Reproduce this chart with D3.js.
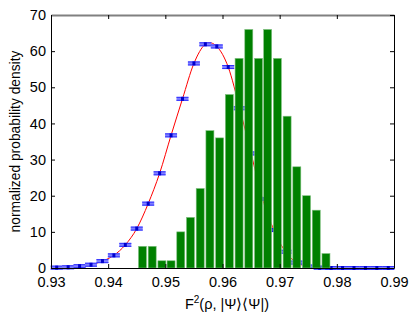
<!DOCTYPE html>
<html><head><meta charset="utf-8">
<script src="https://cdn.jsdelivr.net/npm/d3@7"></script>
<style>
html,body{margin:0;padding:0;background:#fff;}
svg{display:block;font-family:"Liberation Sans",Arial,sans-serif;}
</style></head>
<body><svg id="c" width="415" height="315"></svg>
<script>
// Histogram bins (centers) and normalized densities
const binCenters = [0.9460,0.9477,0.9494,0.9510,0.9527,0.9544,0.9561,0.9578,0.9595,0.9612,
                    0.9629,0.9646,0.9663,0.9679,0.9696,0.9713,0.9730,0.9747,0.9764,0.9781];
const binValues  = [6,6,2,2,10,14,22,38,36,48,58,66,58,66,58,42,28,20,16,4];
// Theoretical density points (error-bar markers and red curve)
const pointX = [0.931,0.933,0.935,0.937,0.939,0.941,0.943,0.945,0.947,0.949,
                0.951,0.953,0.955,0.957,0.959,0.961,0.963,0.965,0.967,0.969,
                0.971,0.973,0.975,0.977,0.979,0.981,0.983,0.985,0.987,0.989];
const pointY = [0.1,0.2,0.5,0.9,1.9,3.5,6.4,10.9,17.8,26.2,
                36.7,46.8,56.6,61.9,61.3,55.6,44.2,31.7,19.1,10.5,
                4.5,1.5,0.4,0.1,0,0,0,0,0,0];
const xTicks = [0.93,0.94,0.95,0.96,0.97,0.98,0.99];
const yTicks = [0,10,20,30,40,50,60,70];
const binWidth = 0.0014;

const svg = d3.select("#c");
const L=51, R=394, T=15, B=268;
const FS = 14.5;
const x = d3.scaleLinear().domain([0.93,0.99]).range([L,R]);
const y = d3.scaleLinear().domain([0,70]).range([B,T]);

const g = svg.append("g");

// red curve
const line = d3.line().x((d,i)=>x(pointX[i])).y(d=>y(d)).curve(d3.curveCatmullRom.alpha(0));
g.append("path").datum(pointY).attr("d",line).attr("fill","none").attr("stroke","#ff0000").attr("stroke-width",1);

// markers
const mk = g.selectAll("g.mk").data(pointY).join("g").attr("class","mk")
  .attr("transform",(d,i)=>`translate(${x(pointX[i])},${y(d)})`);
mk.append("rect").attr("x",-6).attr("y",-2).attr("width",12).attr("height",4).attr("fill","#8080ff");
mk.append("line").attr("x1",-6).attr("x2",6).attr("y1",-1.5).attr("y2",-1.5).attr("stroke","#3030ff").attr("stroke-width",1);
mk.append("line").attr("x1",-6).attr("x2",6).attr("y1",1.5).attr("y2",1.5).attr("stroke","#3030ff").attr("stroke-width",1);
mk.append("rect").attr("x",-1.5).attr("y",-2).attr("width",3).attr("height",4).attr("fill","#0000cc");

// bars
g.selectAll("rect.bar").data(binValues).join("rect").attr("class","bar")
  .attr("x",(d,i)=>x(binCenters[i]-binWidth/2))
  .attr("width",(d,i)=>x(binCenters[i]+binWidth/2)-x(binCenters[i]-binWidth/2))
  .attr("y",d=>y(d)).attr("height",d=>B-y(d))
  .attr("fill","#008000").attr("stroke","#80c080").attr("stroke-width",0.6);

// axes box
const axX = d3.axisBottom(x).tickValues(xTicks).tickFormat(d3.format(".2f")).tickSizeInner(-4).tickSizeOuter(0).tickPadding(9);
const axY = d3.axisLeft(y).tickValues(yTicks).tickSizeInner(-4).tickSizeOuter(0).tickPadding(5);
const axXt = d3.axisTop(x).tickValues(xTicks).tickFormat("").tickSizeInner(-4).tickSizeOuter(0);
const axYr = d3.axisRight(y).tickValues(yTicks).tickFormat("").tickSizeInner(-4).tickSizeOuter(0);

function style(sel){ sel.selectAll("path").attr("stroke","#000"); sel.selectAll("line").attr("stroke","#000");
  sel.selectAll("text").attr("font-size",FS).attr("fill","#000").attr("font-family","Liberation Sans, Arial, sans-serif"); }
svg.append("g").attr("transform",`translate(0,${B})`).call(axX).call(style);
svg.append("g").attr("transform",`translate(${L},0)`).call(axY).call(style);
const tg = svg.append("g").attr("transform",`translate(0,${T})`).call(axXt).call(style);
tg.select("path").attr("stroke","#808080").attr("stroke-width",2);
svg.append("g").attr("transform",`translate(${R},0)`).call(axYr).call(style);

// titles
svg.append("text").attr("x",227).attr("y",309).attr("text-anchor","middle").attr("font-size",FS)
  .html('F<tspan dy="-6" font-size="10">2</tspan><tspan dy="6">(ρ, |Ψ⟩⟨Ψ|)</tspan>');
svg.append("text").attr("transform",`translate(20,${(T+B)/2}) rotate(-90)`).attr("text-anchor","middle")
  .attr("font-size",13.8).text("normalized probability density");
</script></body></html>
